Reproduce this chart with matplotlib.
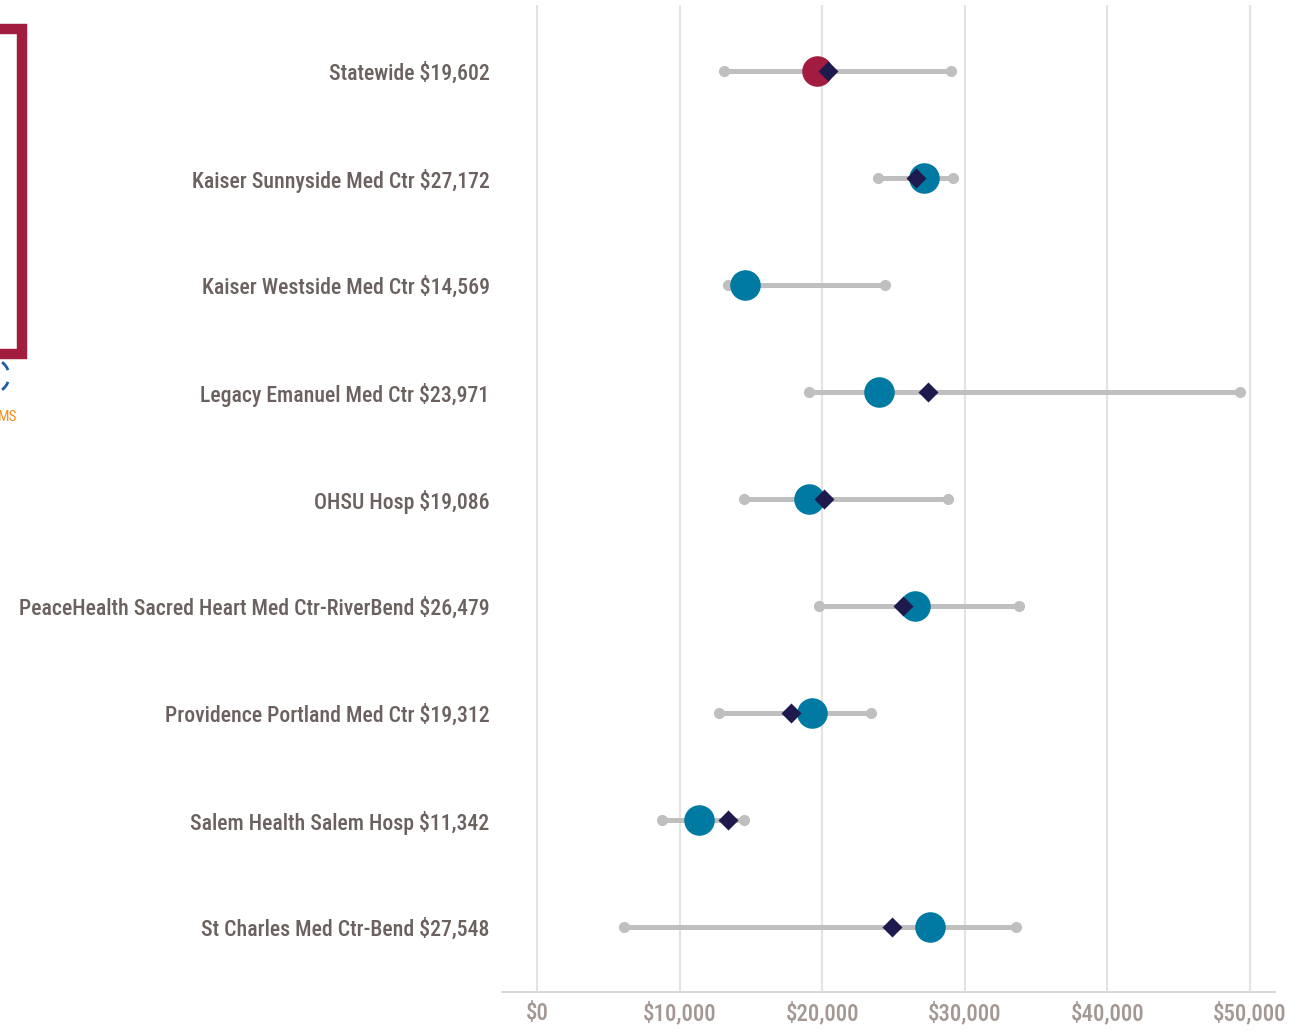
import numpy as np
import matplotlib.pyplot as plt
from matplotlib.patches import Rectangle, Arc

# hospital rows, top to bottom
names = ["Statewide", "Kaiser Sunnyside Med Ctr", "Kaiser Westside Med Ctr",
         "Legacy Emanuel Med Ctr", "OHSU Hosp",
         "PeaceHealth Sacred Heart Med Ctr-RiverBend",
         "Providence Portland Med Ctr", "Salem Health Salem Hosp",
         "St Charles Med Ctr-Bend"]
median = [19602, 27172, 14569, 23971, 19086, 26479, 19312, 11342, 27548]
low = [13100, 23900, 13400, 19100, 14500, 19800, 12800, 8800, 6100]
high = [29000, 29200, 24400, 49300, 28800, 33800, 23400, 14500, 33600]
mean = [20400, 26600, np.nan, 27400, 20100, 25700, 17800, 13400, 24900]
ticks = [0, 10000, 20000, 30000, 40000, 50000]

label_color = "#6b6260"
tick_color = "#a39893"
red = "#a21c40"
teal = "#0079a3"
navy = "#1f1a4e"
grey = "#bfbfbf"

plt.rcParams['font.family'] = ['Roboto Condensed', 'Archivo Narrow',
                               'Asap Condensed', 'DejaVu Sans']

W, H = 1307, 1036
fig = plt.figure(figsize=(W / 100, H / 100), dpi=100)
ax = fig.add_axes([502 / W, 44 / H, (1275 - 502) / W, (992 - 5) / H])

ypos = np.arange(len(names))
for i in ypos:
    ax.plot([low[i], high[i]], [i, i], color=grey, lw=3.6, zorder=2,
            solid_capstyle='round')
    ax.plot([low[i], high[i]], [i, i], 'o', color=grey, ms=7, zorder=2)
    c = red if i == 0 else teal
    ax.plot(median[i], i, 'o', color=c, ms=22, mec='none', zorder=3)
    if not np.isnan(mean[i]):
        ax.plot(mean[i], i, 'D', color=navy, ms=10, mec='none', zorder=4)

ax.set_xlim(-2450, 51750)
ax.set_ylim(8.607, -0.617)
ax.set_xticks(ticks)
ax.set_xticklabels(["${:,}".format(t) for t in ticks], color=tick_color,
                   fontsize=16.5, fontweight='medium')
ax.set_yticks(ypos)
ax.set_yticklabels(["{} ${:,}".format(n, v) for n, v in zip(names, median)],
                   color=label_color, fontsize=15.7, fontweight='medium')
ax.tick_params(axis='both', length=0)
ax.tick_params(axis='y', pad=9)
ax.tick_params(axis='x', pad=7)
ax.grid(axis='x', color='#e3e3e3', lw=1.5, zorder=0)
ax.set_axisbelow(True)
for s in ['top', 'right', 'left']:
    ax.spines[s].set_visible(False)
ax.spines['bottom'].set_color('#d9d9d9')
ax.spines['bottom'].set_linewidth(1.5)

# cropped logo on the left edge
frame = Rectangle((-20 / W, (H - 354) / H), 42 / W, 325 / H,
                  transform=fig.transFigure, fill=False, ec=red, lw=7.5)
fig.patches.append(frame)
fig.patches.append(Arc((-8 / W, (H - 376) / H), 34 / W, 34 / H, theta1=25,
                       theta2=60, transform=fig.transFigure, color='#1f5f9e', lw=2))
fig.patches.append(Arc((-8 / W, (H - 376) / H), 34 / W, 34 / H, theta1=-60,
                       theta2=-25, transform=fig.transFigure, color='#1f5f9e', lw=2))
fig.text(-2 / W, (H - 417) / H, "MS", color='#f0901e', fontsize=11,
         va='center', ha='left')

fig.savefig("out.png", dpi=100)
